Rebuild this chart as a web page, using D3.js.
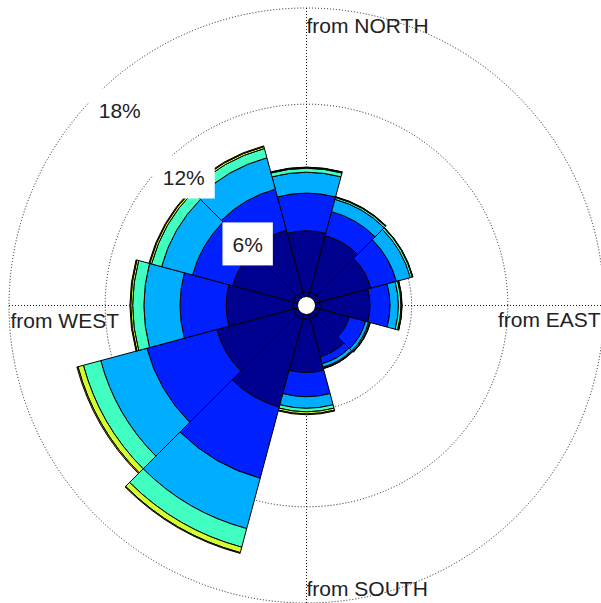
<!DOCTYPE html>
<html><head><meta charset="utf-8">
<script src="https://cdn.jsdelivr.net/npm/d3@7"></script>
<style>
body{margin:0;background:#fff}
svg{display:block}
text{font-family:Arial,"Liberation Sans",Helvetica,sans-serif}
</style>
</head><body>
<svg id="chart" width="601" height="603"></svg>
<script>
// Directions (compass degrees, "from")
const directions = [0, 30, 60, 90, 120, 150, 180, 210, 240, 270, 300, 330];
// Percent of time per speed class, per direction (stacked outward)
const bin0 = [0.30, 0.30, 0.30, 0.30, 0.30, 0.30, 0.30, 0.30, 0.30, 0.30, 0.30, 0.30];
const bin1 = [3.80, 3.65, 3.30, 3.10, 1.90, 2.45, 3.32, 5.70, 4.93, 4.15, 3.90, 4.00];
const bin2 = [2.35, 1.55, 1.65, 1.25, 1.05, 0.45, 1.51, 4.60, 4.52, 2.88, 2.60, 2.65];
const bin3 = [1.30, 0.80, 0.90, 0.52, 0.20, 0.22, 0.72, 3.25, 2.98, 2.25, 2.00, 2.03];
const bin4 = [0.25, 0.12, 0.13, 0.16, 0.07, 0.05, 0.22, 1.20, 1.12, 0.70, 0.65, 0.60];
const bin5 = [0.05, 0.03, 0.02, 0.05, 0.03, 0.03, 0.13, 0.35, 0.35, 0.12, 0.12, 0.12];
const bin6 = [0.02, 0.02, 0.02, 0.02, 0.02, 0.02, 0.05, 0.05, 0.07, 0.05, 0.05, 0.05];
const binKeys = ["bin0", "bin1", "bin2", "bin3", "bin4", "bin5", "bin6"];
// Grid rings
const ringValues = [6, 12, 18];
const ringLabels = ["6%", "12%", "18%"];
// Direction labels
const dirNames = ["from NORTH", "from EAST", "from SOUTH", "from WEST"];

const palette = ["#00008F", "#00008F", "#0020FF", "#00AEFF", "#40FFC0", "#D2FF30", "#FF9A00"];

const W = 601, H = 603, cx = 306.5, cy = 305.5;
const svg = d3.select("#chart");
const g = svg.append("g").attr("transform", `translate(${cx},${cy})`);

const rScale = d3.scaleLinear().domain([0, 18]).range([9, 297.5]);
const binArrays = [bin0, bin1, bin2, bin3, bin4, bin5, bin6];
const table = directions.map((d, i) => {
  const o = {dir: d};
  binKeys.forEach((k, j) => o[k] = binArrays[j][i]);
  return o;
});
const series = d3.stack().keys(binKeys)(table);

// grid: dotted circles
const gridColor = "#1a1a1a";
const dash = "1,2";
g.selectAll("circle.grid").data(ringValues).join("circle")
  .attr("class", "grid").attr("r", d => rScale(d))
  .attr("fill", "none").attr("stroke", gridColor)
  .attr("stroke-width", 1).attr("stroke-dasharray", dash);
// axes
const R = rScale(18);
g.append("line").attr("x1", -R).attr("x2", W - cx).attr("y1", 0).attr("y2", 0)
  .attr("stroke", gridColor).attr("stroke-dasharray", dash);
g.append("line").attr("y1", -R).attr("y2", H - cy).attr("x1", 0).attr("x2", 0)
  .attr("stroke", gridColor).attr("stroke-dasharray", dash);

// bars
const half = Math.PI / 12; // 15 degrees
const arc = d3.arc()
  .innerRadius(d => rScale(d[0]))
  .outerRadius(d => rScale(d[1]))
  .startAngle(d => d.data.dir * Math.PI / 180 - half)
  .endAngle(d => d.data.dir * Math.PI / 180 + half);

series.forEach((s, j) => {
  g.append("g").selectAll("path").data(s).join("path")
    .attr("d", arc)
    .attr("fill", palette[j])
    .attr("stroke", "#000")
    .attr("stroke-width", 1)
    .attr("stroke-linejoin", "round");
});

// center hole
g.append("circle").attr("r", rScale(0)).attr("fill", "#fff").attr("stroke", "#000").attr("stroke-width", 1);

// direction labels
const fs = 21;
g.append("text").text(dirNames[0]).attr("x", 0).attr("y", -R + 24.5).attr("font-size", fs).attr("fill", "#222");
g.append("text").text(dirNames[2]).attr("x", 0).attr("y", R - 7).attr("font-size", fs).attr("fill", "#222");
g.append("text").text(dirNames[1]).attr("x", R - 106).attr("y", 21.5).attr("font-size", fs).attr("fill", "#222");
g.append("text").text(dirNames[3]).attr("x", -R + 1.5).attr("y", 22.5).attr("font-size", fs).attr("fill", "#222");

// ring labels with white boxes
const labAng = 316.3 * Math.PI / 180;
ringValues.forEach((v, i) => {
  const lr = rScale(v) - 20 - (v - 6) * 0.6;
  const x = lr * Math.sin(labAng), y = -lr * Math.cos(labAng);
  const t = g.append("text").text(ringLabels[i]).attr("x", x).attr("y", y)
    .attr("text-anchor", "middle").attr("dy", "0.36em")
    .attr("font-size", fs).attr("fill", "#222");
  const bb = t.node().getBBox();
  g.insert("rect", function(){ return t.node(); })
    .attr("x", x - bb.width / 2 - 10).attr("y", y - 21.5)
    .attr("width", bb.width + 20).attr("height", 43)
    .attr("fill", "#fff");
});
</script>
</body></html>
